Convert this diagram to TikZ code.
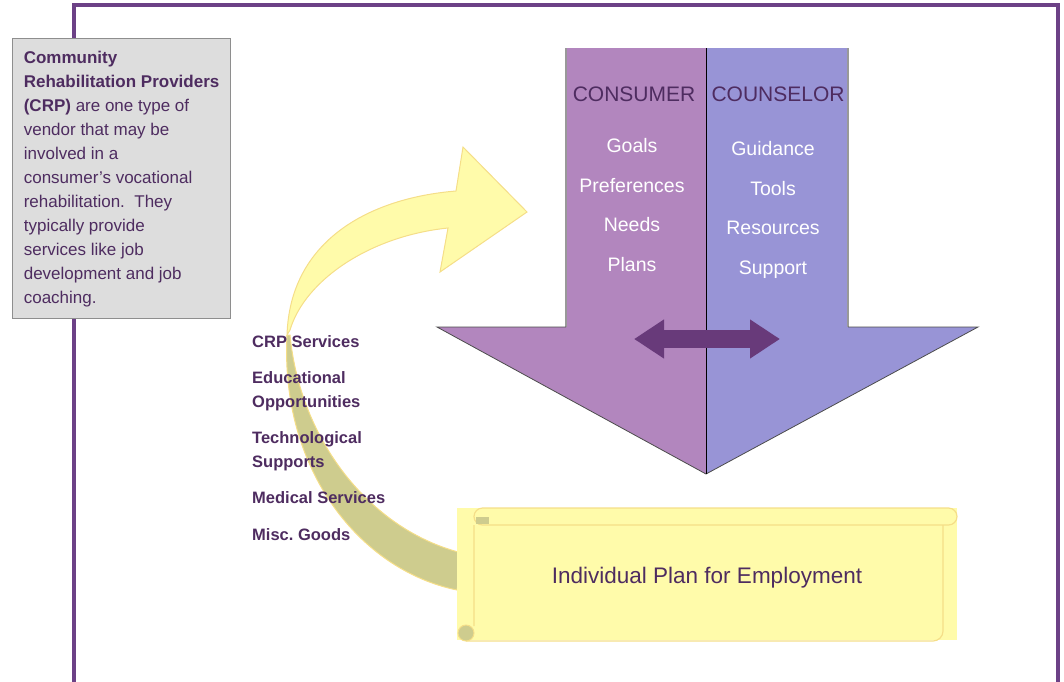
\documentclass[tikz,border=0pt]{standalone}
\usepackage{fontspec}
\setmainfont{Liberation Sans}
\usetikzlibrary{arrows.meta}

\definecolor{framepurple}{HTML}{6C4186}
\definecolor{textpurple}{HTML}{4E2C60}
\definecolor{consumerfill}{HTML}{B286BE}
\definecolor{counselorfill}{HTML}{9894D6}
\definecolor{swapfill}{HTML}{683A7A}
\definecolor{noteyellow}{HTML}{FFFBAA}
\definecolor{noteedge}{HTML}{F5DE88}
\definecolor{noteolive}{HTML}{CECC8E}
\definecolor{notegray}{HTML}{DDDDDD}
\definecolor{boxgray}{HTML}{8E8E8E}

\begin{document}
\begin{tikzpicture}[x=1pt,y=-1pt,
    heading/.style={text=textpurple,font=\fontsize{21}{24}\selectfont},
    items/.style={text=white,align=center,font=\fontsize{19.5}{39.5}\selectfont},
    service/.style={text=textpurple,anchor=west,align=left,inner xsep=0,font=\bfseries\fontsize{16.5}{24}\selectfont}]
  \useasboundingbox (0,0) rectangle (1064,681);

  \draw[framepurple,line width=4] (74,690) |- (1058,5) -- (1058,690);

  \node (crp) [anchor=north west,fill=notegray,draw=boxgray,line width=1.2,minimum width=218,minimum height=280,align=left,text=textpurple,font=\fontsize{17}{24}\selectfont] at (12,38)
    {\textbf{Community}\\\textbf{Rehabilitation Providers}\\\textbf{(CRP)} are one type of\\vendor that may be\\involved in a\\consumer’s vocational\\rehabilitation.\ \ They\\typically provide\\services like job\\development and job\\coaching.};

  % big arrow, two halves
  \fill[consumerfill] (566,48) -- (706,48) -- (706,474) -- (437,327) -- (566,327) -- cycle;
  \fill[counselorfill] (706,48) -- (848,48) -- (848,327) -- (978,327) -- (706,474) -- cycle;
  \draw[gray!80,line width=2] (566,48) -- (566,327) (848,48) -- (848,327);
  \draw[black!70,line width=0.8] (566,327) -- (437,327) -- (706,474) -- (978,327) -- (848,327);
  \draw[black,line width=1] (706,48) -- (706,474);

  \node (consumer) [heading] at (634,94) {CONSUMER};
  \node (counselor) [heading] at (778,94) {COUNSELOR};
  \node (consumerlist) [items] at (632,205) {Goals\\Preferences\\Needs\\Plans};
  \node (counselorlist) [items] at (773,210) {Guidance\\Tools\\Resources\\Support};

  \coordinate (swapl) at (634,339);
  \coordinate (swapr) at (780,339);
  \draw[swapfill,line width=18,{Triangle[length=30pt,width=37pt]}-{Triangle[length=30pt,width=37pt]}] (swapl) -- (swapr);

  % curved arrow
  \filldraw[fill=noteolive,draw=noteedge,line width=1] (287,335) .. controls (280,470) and (360,570) .. (457,590) -- (462,553) .. controls (370,530) and (300,440) .. (290,335) -- cycle;
  \filldraw[fill=noteyellow,draw=noteedge,line width=1] (287,335) .. controls (290,240) and (370,198) .. (456,191) -- (463,147) -- (527,212) -- (440,272) -- (448,228) .. controls (370,236) and (305,280) .. (290,330) -- cycle;

  % scroll
  \fill[noteyellow] (457,508) rectangle (957,640);
  \draw[noteedge,line width=1.2,rounded corners=8.5] (474,508) rectangle (957,525);
  \draw[noteedge,line width=1.2,rounded corners=10] (474,525) -- (474,626) (943,525) -- (943,641) -- (466,641);
  \fill[noteolive] (476,517) rectangle (489,524);
  \filldraw[fill=noteolive,draw=noteedge,line width=1] (466,633) circle (8);
  \node (ipe) [text=textpurple,font=\fontsize{22.5}{26}\selectfont] at (707,578) {Individual Plan for Employment};

  \node (crpsvc) [service] at (252,342) {CRP Services};
  \node (edu) [service] at (252,391) {Educational\\Opportunities};
  \node (tech) [service] at (252,451) {Technological\\Supports};
  \node (med) [service] at (252,498) {Medical Services};
  \node (misc) [service] at (252,535) {Misc.\ Goods};
\end{tikzpicture}
\end{document}
